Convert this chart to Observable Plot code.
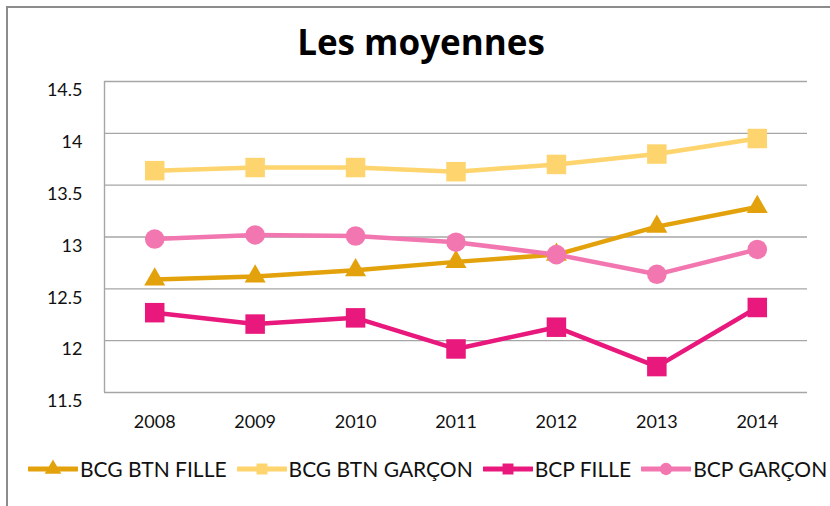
<!DOCTYPE html>
<html>
<head>
<meta charset="utf-8">
<script src="https://cdn.jsdelivr.net/npm/d3@7"></script>
<script src="https://cdn.jsdelivr.net/npm/@observablehq/plot@0.6"></script>
<style>
  html, body { margin: 0; padding: 0; background: #fff; }
  #wrap { position: relative; width: 830px; height: 506px; overflow: hidden; font-family: Lato, "Open Sans", sans-serif; }
  #border { position: absolute; left: 6px; top: 6px; width: 840px; height: 520px; border-left: 2px solid #8c8c8c; border-top: 2px solid #8c8c8c; }
  #title { position: absolute; left: 0; width: 842px; top: 24px; text-align: center; font-family: "Open Sans", sans-serif; font-weight: 700; font-size: 35px; color: #000; line-height: 1; }
  #chart { position: absolute; left: 0; top: 60px; }
  #legend { position: absolute; left: 28px; top: 456px; display: flex; align-items: center; white-space: nowrap; font-family: Lato, sans-serif; font-size: 21px; color: #111; }
  .item { display: flex; align-items: center; margin-right: 10px; }
  .item svg { display: block; margin-right: 2px; }
</style>
</head>
<body>
<div id="wrap">
  <div id="border"></div>
  <div id="title">Les moyennes</div>
  <div id="chart"></div>
  <div id="legend"></div>
</div>
<script>
const years = [2008, 2009, 2010, 2011, 2012, 2013, 2014];
const btnFille  = [12.59, 12.62, 12.68, 12.76, 12.83, 13.10, 13.29];
const btnGarcon = [13.64, 13.67, 13.67, 13.63, 13.70, 13.80, 13.95];
const bcpFille  = [12.27, 12.16, 12.22, 11.92, 12.13, 11.75, 12.32];
const bcpGarcon = [12.98, 13.02, 13.01, 12.95, 12.83, 12.64, 12.88];
const seriesNames = ["BCG BTN FILLE", "BCG BTN GARÇON", "BCP FILLE", "BCP GARÇON"];
const seriesValues = [btnFille, btnGarcon, bcpFille, bcpGarcon];
const seriesColors = ["#e3a20b", "#fed46e", "#e8187c", "#f277b0"];
const seriesSymbols = ["triangle", "square", "square", "circle"];
const symbolRadius = [7.8, 11, 11, 9.8];
const yTicks = [11.5, 12, 12.5, 13, 13.5, 14, 14.5];

const data = seriesNames.flatMap((name, i) =>
  years.map((year, j) => ({series: name, year, value: seriesValues[i][j]})));

const marks = [
  Plot.ruleY(yTicks, {stroke: "#a6a6a6", strokeWidth: 1.4}),
  Plot.ruleX([2007.5], {stroke: "#a6a6a6", strokeWidth: 1.4, y1: 11.5, y2: 14.5})
];
seriesNames.forEach((name, i) => {
  const d = data.filter(r => r.series === name);
  marks.push(Plot.line(d, {x: "year", y: "value", stroke: seriesColors[i], strokeWidth: 4.5}));
  marks.push(Plot.dot(d, {x: "year", y: "value", fill: seriesColors[i], symbol: () => seriesSymbols[i], r: symbolRadius[i], stroke: "none"}));
});

const chart = Plot.plot({
  width: 830,
  height: 380,
  marginLeft: 104,
  marginRight: 23,
  marginTop: 21,
  marginBottom: 48,
  style: {fontFamily: "Lato, sans-serif", fontSize: "18px", color: "#111", background: "transparent"},
  x: {domain: [2007.5, 2014.5], ticks: years, tickFormat: "d", tickSize: 0, tickPadding: 23, label: null},
  y: {domain: [11.5, 14.5], ticks: yTicks, tickFormat: d => String(d), tickSize: 0, tickPadding: 22, label: null},
  marks
});
chart.querySelectorAll('[aria-label="y-axis tick label"] text').forEach(t => t.setAttribute("dy", "0.5em"));
document.getElementById("chart").appendChild(chart);

const legend = d3.select("#legend");
seriesNames.forEach((name, i) => {
  const item = legend.append("div").attr("class", "item");
  const svg = item.append("svg").attr("width", 50).attr("height", 20);
  svg.append("line").attr("x1", 1).attr("x2", 49).attr("y1", 10).attr("y2", 10)
    .attr("stroke", seriesColors[i]).attr("stroke-width", 5).attr("stroke-linecap", "round");
  const sym = {triangle: d3.symbolTriangle, square: d3.symbolSquare, circle: d3.symbolCircle}[seriesSymbols[i]];
  svg.append("path").attr("transform", "translate(25,10)")
    .attr("d", d3.symbol(sym, 120)()).attr("fill", seriesColors[i]);
  item.append("span").text(name);
});
</script>
</body>
</html>
